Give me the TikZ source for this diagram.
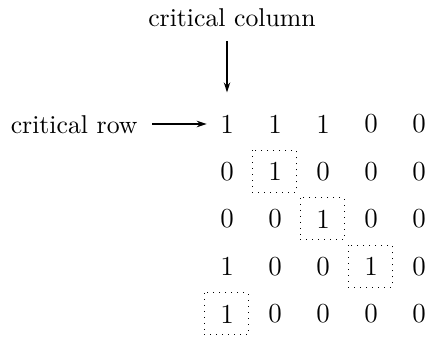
\documentclass[tikz,border=0pt]{standalone}
\usetikzlibrary{arrows.meta,calc}
\begin{document}
\begin{tikzpicture}[x=0.4pt,y=-0.4pt,
  entry/.style={inner sep=0pt, font=\fontsize{11}{13}\selectfont},
  lbl/.style={inner sep=0pt, font=\fontsize{10.3}{12}\selectfont},
  pointer/.style={-{Stealth[length=4pt,width=2.6pt]}, line width=0.6pt},
  pivotbox/.style={draw, line width=0.4pt, dash pattern=on 0.4pt off 2pt}]
\useasboundingbox (0,0) rectangle (432,337);

% the 0/1 matrix
\foreach \rowvals [count=\r] in {{1,1,1,0,0},{0,1,0,0,0},{0,0,1,0,0},{1,0,0,1,0},{1,0,0,0,0}}{
  \foreach \v [count=\c] in \rowvals {
    \node[entry] (m\r\c) at ({227+48*(\c-1)},{124+47.5*(\r-1)}) {\v};
  }
}

% dotted frames around the chosen entries
\foreach \r/\c in {2/2,3/3,4/4,5/1}
  \draw[pivotbox] ($(m\r\c)+(-23,-21)$) rectangle ($(m\r\c)+(21,21)$);

% labels and pointers
\node[lbl, anchor=base] (colLabel) at (232,27) {critical column};
\path (m11.base) ++(-89,0) node[lbl, anchor=base east] (rowLabel) {critical row};

\draw[pointer, shorten <=5.6pt, shorten >=5.2pt] (rowLabel.east |- m11) -- (m11.west);
\draw[pointer, shorten <=5.2pt, shorten >=8.8pt] (colLabel.south -| m11) -- (m11.north);
\end{tikzpicture}
\end{document}
